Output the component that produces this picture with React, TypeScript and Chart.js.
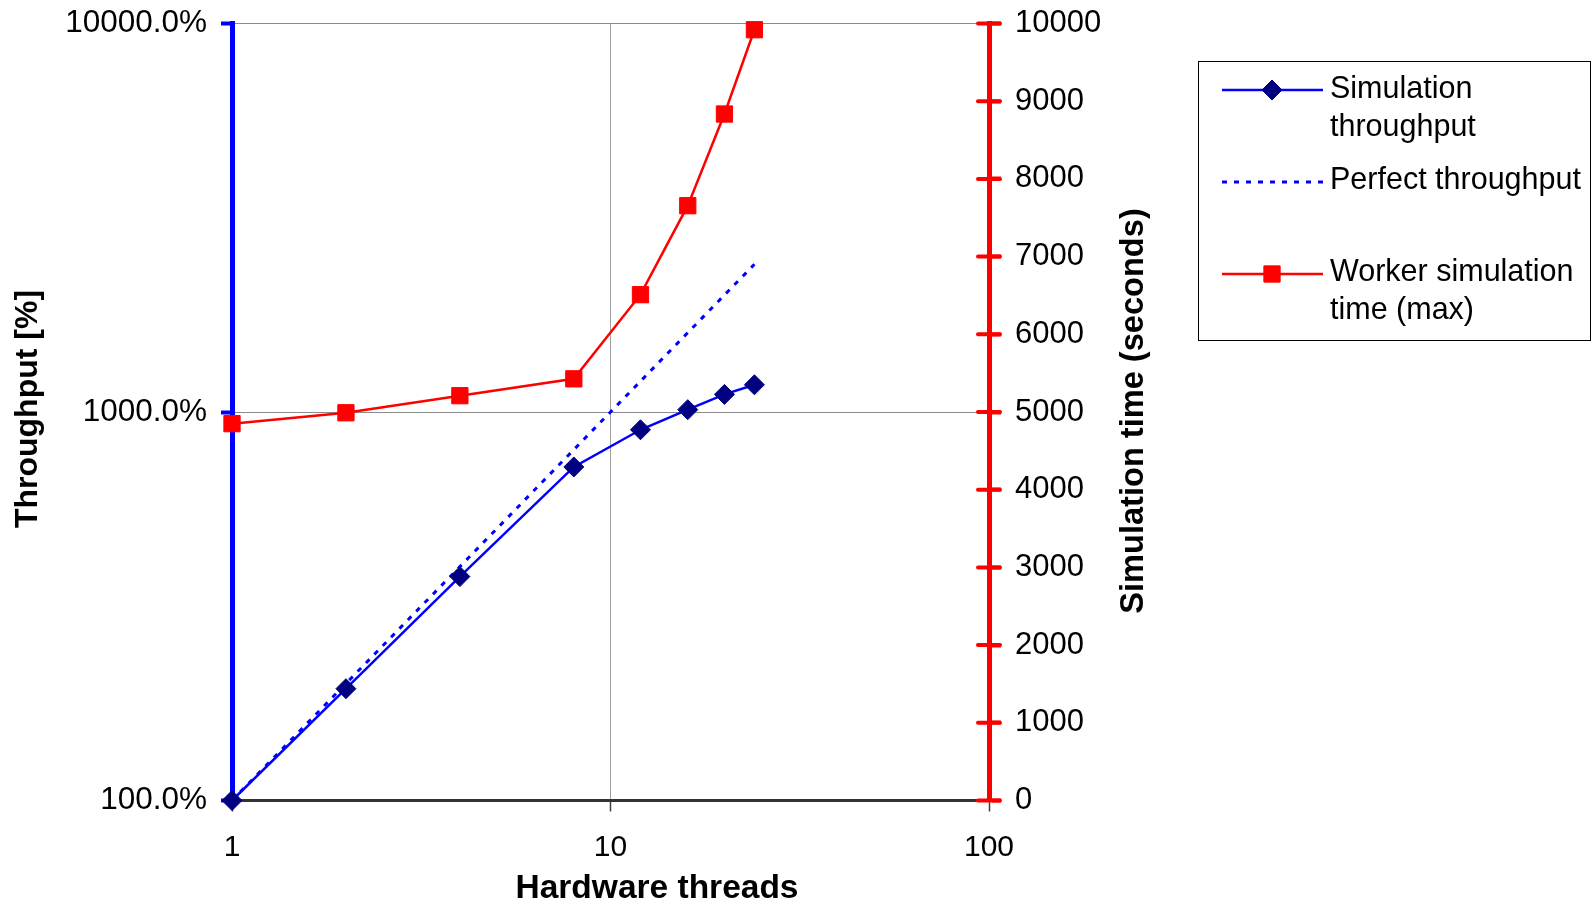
import React, { useEffect, useRef } from "react";
import { Chart, registerables } from "chart.js";

Chart.register(...registerables);

const threads = [1, 2, 4, 8, 12, 16, 20, 24];
const simulationThroughput = [100, 194, 377, 722, 900, 1014, 1110, 1175];
const perfectThroughput = [100, 200, 400, 800, 1200, 1600, 2000, 2400];
const workerSimulationTime = [4850, 4990, 5210, 5427, 6510, 7655, 8835, 9920];

const xTicks = [1, 10, 100];
const leftTicks = [100, 1000, 10000];

const FONT = "'Liberation Sans', Arial, sans-serif";

const pts = (ys: number[]) => threads.map((x, i) => ({ x, y: ys[i] }));

const customPlugin = {
  id: "custom",
  afterDraw(chart: any) {
    const ctx = chart.ctx as CanvasRenderingContext2D;
    const y2 = chart.scales.y2;
    ctx.save();
    ctx.strokeStyle = "#ff0000";
    ctx.lineWidth = 4;
    ctx.lineCap = "round";
    y2.ticks.forEach((t: any) => {
      const py = y2.getPixelForValue(t.value);
      ctx.beginPath();
      ctx.moveTo(y2.left - 11, py);
      ctx.lineTo(y2.left + 11, py);
      ctx.stroke();
    });
    ctx.restore();

    ctx.save();
    ctx.fillStyle = "#000";
    ctx.textAlign = "center";
    ctx.textBaseline = "middle";
    ctx.font = `bold 33.5px ${FONT}`;
    ctx.fillText("Hardware threads", 657, 889);
    ctx.font = `bold 32px ${FONT}`;
    ctx.save();
    ctx.translate(28.5, 409);
    ctx.rotate(-Math.PI / 2);
    ctx.fillText("Throughput [%]", 0, 0);
    ctx.restore();
    ctx.font = `bold 32.6px ${FONT}`;
    ctx.save();
    ctx.translate(1134, 411);
    ctx.rotate(-Math.PI / 2);
    ctx.fillText("Simulation time (seconds)", 0, 0);
    ctx.restore();
    ctx.restore();

    ctx.save();
    ctx.strokeStyle = "#000";
    ctx.lineWidth = 1;
    ctx.strokeRect(1198.5, 61.5, 392, 279);
    const ds = chart.data.datasets;
    const entries = [
      { ds: ds[0], y: 90, lines: ["Simulation", "throughput"], ty: 90 },
      { ds: ds[1], y: 182, lines: ["Perfect throughput"], ty: 181 },
      { ds: ds[2], y: 274, lines: ["Worker simulation", "time (max)"], ty: 273 },
    ];
    entries.forEach((e) => {
      ctx.save();
      ctx.strokeStyle = e.ds.borderColor;
      ctx.lineWidth = e.ds.borderWidth;
      ctx.setLineDash(e.ds.borderDash || []);
      ctx.beginPath();
      ctx.moveTo(1222, e.y);
      ctx.lineTo(1323, e.y);
      ctx.stroke();
      ctx.restore();
      if (e.ds.pointRadius > 0) {
        ctx.save();
        ctx.fillStyle = e.ds.pointBackgroundColor;
        ctx.strokeStyle = e.ds.pointBorderColor;
        ctx.lineWidth = 1;
        const r = e.ds.pointRadius;
        ctx.beginPath();
        if (e.ds.pointStyle === "rectRot") {
          ctx.moveTo(1272, e.y - r);
          ctx.lineTo(1272 + r, e.y);
          ctx.lineTo(1272, e.y + r);
          ctx.lineTo(1272 - r, e.y);
          ctx.closePath();
        } else {
          const s = r * Math.SQRT1_2;
          ctx.rect(1272 - s, e.y - s, 2 * s, 2 * s);
        }
        ctx.fill();
        ctx.stroke();
        ctx.restore();
      }
      ctx.fillStyle = "#000";
      ctx.font = `30.5px ${FONT}`;
      ctx.textAlign = "left";
      ctx.textBaseline = "middle";
      e.lines.forEach((l, i) => ctx.fillText(l, 1330, e.ty + i * 38));
    });
    ctx.restore();
  },
};

const zeroPad = (s: any) => {
  s.paddingTop = 0;
  s.paddingBottom = 0;
  s.paddingLeft = 0;
  s.paddingRight = 0;
};

export default function App() {
  const ref = useRef<HTMLCanvasElement | null>(null);
  useEffect(() => {
    document.body.style.margin = "0";
    const canvas = ref.current!;
    const chart = new Chart(canvas, {
      type: "line",
      data: {
        datasets: [
          {
            label: "Simulation throughput",
            data: pts(simulationThroughput),
            yAxisID: "y",
            borderColor: "#0000ff",
            borderWidth: 2.5,
            pointStyle: "rectRot",
            pointRadius: 10,
            pointBackgroundColor: "#000080",
            pointBorderColor: "#000080",
            pointBorderWidth: 1,
            clip: false,
          } as any,
          {
            label: "Perfect throughput",
            data: pts(perfectThroughput),
            yAxisID: "y",
            borderColor: "#0000ff",
            borderWidth: 3,
            borderDash: [5, 7],
            pointRadius: 0,
            clip: false,
          } as any,
          {
            label: "Worker simulation time (max)",
            data: pts(workerSimulationTime),
            yAxisID: "y2",
            borderColor: "#ff0000",
            borderWidth: 2.5,
            pointStyle: "rect",
            pointRadius: 11.5,
            pointBackgroundColor: "#ff0000",
            pointBorderColor: "#ff0000",
            pointBorderWidth: 1,
            clip: false,
          } as any,
        ],
      },
      options: {
        animation: false,
        responsive: false,
        layout: { padding: { top: 23.5, left: 0, right: 0, bottom: 0 } },
        plugins: { legend: { display: false }, tooltip: { enabled: false } },
        scales: {
          x: {
            type: "logarithmic",
            position: "bottom",
            min: 1,
            max: 100,
            afterBuildTicks: (s: any) => {
              s.ticks = xTicks.map((v) => ({ value: v }));
            },
            afterFit: (s: any) => {
              s.height = 103.5;
              zeroPad(s);
            },
            ticks: {
              callback: (v: any) => String(v),
              font: { family: FONT, size: 30 },
              color: "#000",
              padding: 18,
              maxRotation: 0,
              autoSkip: false,
            },
            grid: {
              color: "#a0a0a0",
              lineWidth: 1,
              tickColor: "#404040",
              tickLength: 11,
              tickWidth: 1.5,
            },
            border: { color: "#333333", width: 3 },
          },
          y: {
            type: "logarithmic",
            position: "left",
            min: 100,
            max: 10000,
            afterBuildTicks: (s: any) => {
              s.ticks = leftTicks.map((v) => ({ value: v }));
            },
            afterFit: (s: any) => {
              s.width = 232;
              zeroPad(s);
            },
            ticks: {
              callback: (v: any) => Number(v).toFixed(1) + "%",
              font: { family: FONT, size: 31.5 },
              color: "#000",
              padding: 14,
              autoSkip: false,
            },
            grid: {
              color: "#8c8c8c",
              lineWidth: 1,
              tickColor: "#0000ff",
              tickLength: 11,
              tickWidth: 4,
            },
            border: { color: "#0000ff", width: 5 },
          },
          y2: {
            type: "linear",
            position: "right",
            min: 0,
            max: 10000,
            afterFit: (s: any) => {
              s.width = 1596 - 989;
              zeroPad(s);
            },
            ticks: {
              stepSize: 1000,
              callback: (v: any) => String(v),
              font: { family: FONT, size: 31 },
              color: "#000",
              padding: 14,
              autoSkip: false,
            },
            grid: {
              drawOnChartArea: false,
              tickColor: "#ff0000",
              tickLength: 12,
              tickWidth: 4,
            },
            border: { color: "#ff0000", width: 5 },
          },
        },
      } as any,
      plugins: [customPlugin],
    });
    return () => chart.destroy();
  }, []);
  return <canvas ref={ref} width={1596} height={904} style={{ display: "block" }} />;
}
